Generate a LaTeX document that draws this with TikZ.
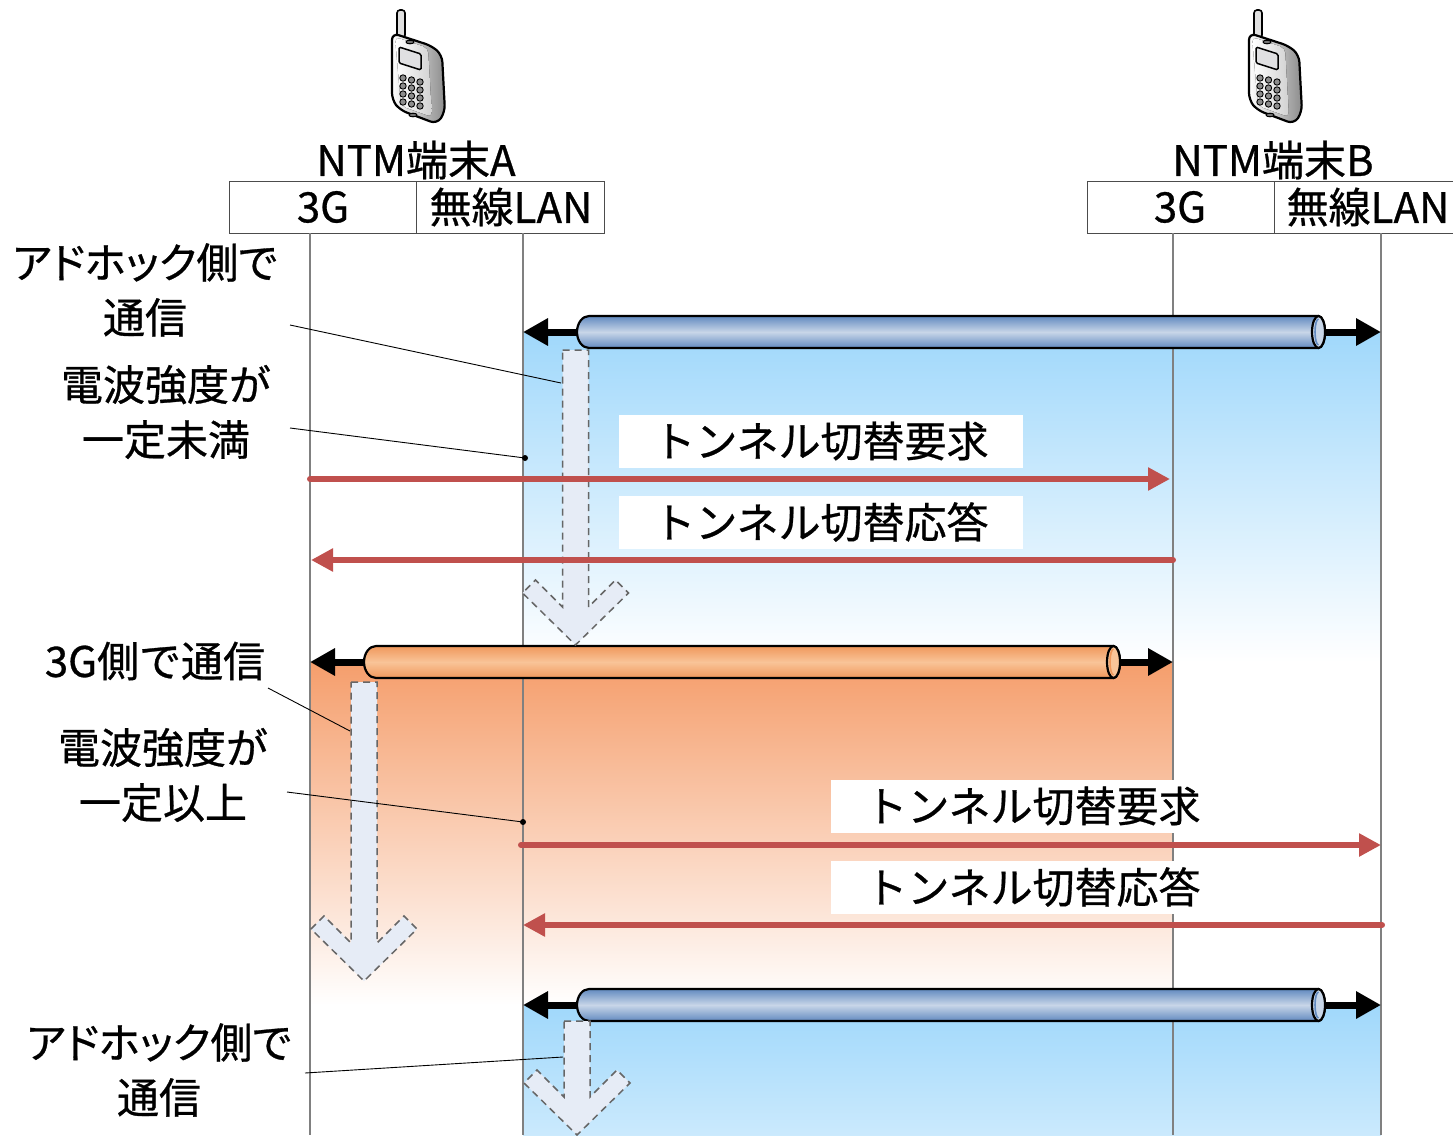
\documentclass[tikz,border=0pt]{standalone}
\usepackage{fontspec}
\setmainfont{Noto Sans CJK JP}[BoldFont=Noto Sans CJK JP, BoldFeatures={FakeBold=0.7}]
\usetikzlibrary{arrows.meta}

\definecolor{msgred}{RGB}{192,80,77}
\definecolor{skyblue}{RGB}{160,216,251}
\definecolor{sunset}{RGB}{245,158,108}
\definecolor{tubeblueD}{RGB}{98,138,192}
\definecolor{tubeblueL}{RGB}{200,214,232}
\definecolor{tubeorD}{RGB}{240,152,92}
\definecolor{tubeorL}{RGB}{249,196,152}
\definecolor{hintfill}{RGB}{230,236,246}
\definecolor{lifegray}{RGB}{128,128,128}

% cylinder: left x, right x (rim centre), centre y, dark colour, light colour
\newcommand\drawtube[5]{%
  \shade[top color=#4, bottom color=#4, middle color=#5, draw=black, line width=2.2]
    (#1+12,#3-16) -- (#2,#3-16)
    arc[start angle=-90, end angle=90, x radius=6.5, y radius=16]
    -- (#1+12,#3+16)
    arc[start angle=90, end angle=270, x radius=12, y radius=16] -- cycle;
  \draw[fill=#5, draw=black, line width=2.2] (#2,#3) ellipse[x radius=6.5, y radius=16];
  \draw[#4, line width=1.6] (#2,#3-13) arc[start angle=-90, end angle=-270, x radius=3.5, y radius=13];
}

% dashed hint arrow: shaft centre x, shaft top y, tip y
\newcommand\hintarrow[3]{%
  \draw[hint] (#1-13,#2) -- (#1+13,#2) -- (#1+13,#3-38) -- (#1+40,#3-65) -- (#1+53,#3-52)
    -- (#1,#3) -- (#1-53,#3-52) -- (#1-40,#3-65) -- (#1-13,#3-38) -- cycle;
}

% proportional kana
\newcommand\propkana{\addfontfeature{RawFeature=+palt}}

\tikzset{
  handset/.pic={
    \draw[fill=black!12, line width=1.6, rounded corners=3] (7,10) rectangle (15,38);
    \draw[line width=2.2, rounded corners=7, left color=white, right color=black!45]
      (2,33) -- (42,46) -- (52,55) -- (55,112) -- (47,124) -- (10,110) -- (2,100) -- cycle;
    \fill[rounded corners=5, left color=white, right color=black!18]
      (5,37) -- (38,48) -- (42,117) -- (11,106) -- cycle;
    \draw[fill=black!55, line width=1] (20,42) ellipse[x radius=4, y radius=1.8];
    \draw[fill=blue!6!black!12, line width=1.5, rounded corners=1.5]
      (9,47) -- (31,54) -- (31,70) -- (9,63) -- cycle;
    \foreach \r in {0,1,2,3}
      \foreach \c in {0,1,2}
        \draw[fill=black!45, line width=0.9] (13+8.5*\c,78+8*\r+2*\c) circle (3.2);
    \draw[fill=black!55, line width=1] (23,115) ellipse[x radius=4, y radius=1.8];
  }
}

\begin{document}
\begin{tikzpicture}[x=1pt, y=-1pt,
  lifeline/.style={draw=lifegray, line width=1.2},
  hdrbox/.style={draw=black!70, line width=1},
  msg/.style={draw=msgred, line width=6, line cap=round, -{Triangle[length=22pt,width=22pt]}},
  tubearrow/.style={line width=7, {Triangle[length=25pt,width=26pt]}-{Triangle[length=25pt,width=26pt]}},
  hint/.style={fill=hintfill, draw=black!60, line width=1.5, dash pattern=on 7pt off 5pt},
  leader/.style={draw=black, line width=0.9},
  note/.style={align=center, font=\fontsize{42}{55}\selectfont\bfseries, inner sep=0pt},
  msglabel/.style={fill=white, minimum width=404pt, minimum height=53pt, inner sep=0pt, font=\fontsize{42}{50}\selectfont\bfseries},
  hdr/.style={font=\fontsize{42}{48}\selectfont\bfseries, inner sep=0pt}]
\useasboundingbox (0,0) rectangle (1453,1135);

% shaded phases
\shade[top color=skyblue, bottom color=white] (523,332) rectangle (1381,662);
\shade[top color=sunset, bottom color=white] (310,662) rectangle (1173,1005);
\shade[top color=skyblue, bottom color=skyblue!55!white] (523,1005) rectangle (1381,1135);

% terminals
\pic at (390,0) {handset};
\pic at (1247,0) {handset};
\node[hdr] (ta) at (416,160) {NTM端末A};
\node[hdr] (tb) at (1273,160) {NTM端末B};
\draw[hdrbox] (229,181) rectangle (604,233);
\draw[hdrbox] (416,181) -- (416,233);
\draw[hdrbox] (1453,181) -- (1087,181) -- (1087,233) -- (1453,233);
\draw[hdrbox] (1274,181) -- (1274,233);
\node[hdr] (a3g) at (323,207) {3G};
\node[hdr] (awl) at (511,207) {無線LAN};
\node[hdr] (b3g) at (1180,207) {3G};
\node[hdr] (bwl) at (1368,207) {無線LAN};

% lifelines
\coordinate (la3g) at (310,233);
\coordinate (lawl) at (523,233);
\coordinate (lb3g) at (1173,233);
\coordinate (lbwl) at (1381,233);
\foreach \l in {la3g,lawl,lb3g,lbwl}
  \draw[lifeline] (\l) -- (\l |- 0,1135);

% tunnels
\coordinate (t1l) at (523,332);  \coordinate (t1r) at (1381,332);
\coordinate (t2l) at (310,662);  \coordinate (t2r) at (1173,662);
\coordinate (t3l) at (523,1005); \coordinate (t3r) at (1381,1005);
\draw[tubearrow] (t1l) -- (t1r);
\drawtube{577}{1318.5}{332}{tubeblueD}{tubeblueL}
\draw[tubearrow] (t2l) -- (t2r);
\drawtube{364}{1113.5}{662}{tubeorD}{tubeorL}
\draw[tubearrow] (t3l) -- (t3r);
\drawtube{577}{1318.5}{1005}{tubeblueD}{tubeblueL}

% state transitions
\hintarrow{575.5}{350}{645}
\hintarrow{364}{682}{981}
\hintarrow{577}{1021}{1135}

% switch messages
\node[msglabel] (q1) at (821,441) {トンネル切替要求};
\node[msglabel] (p1) at (821,522) {トンネル切替応答};
\node[msglabel] (q2) at (1033,806) {トンネル切替要求};
\node[msglabel] (p2) at (1033,887) {トンネル切替応答};
\coordinate (m1s) at (310,479);  \coordinate (m1e) at (1170,479);
\coordinate (m2s) at (1173,560); \coordinate (m2e) at (311,560);
\coordinate (m3s) at (521,845);  \coordinate (m3e) at (1381,845);
\coordinate (m4s) at (1382,925); \coordinate (m4e) at (523,925);
\draw[msg] (m1s) -- (m1e);
\draw[msg] (m2s) -- (m2e);
\draw[msg] (m3s) -- (m3e);
\draw[msg] (m4s) -- (m4e);

% annotations
\node[note] (n1) at (145,290) {{\propkana アドホック側で}\\通信};
\node[note] (n2) at (166,412) {電波強度が\\一定未満};
\node[note] (n3) at (155,661) {3G側で通信};
\node[note] (n4) at (163,775) {電波強度が\\一定以上};
\node[note] (n5) at (159,1070) {{\propkana アドホック側で}\\通信};
\coordinate (c1a) at (290,325);  \coordinate (c1b) at (561,383);
\coordinate (c2a) at (290,428);  \coordinate (c2b) at (525,458);
\coordinate (c3a) at (268,688);  \coordinate (c3b) at (350,731);
\coordinate (c4a) at (287,792);  \coordinate (c4b) at (523,822);
\coordinate (c5a) at (305,1073); \coordinate (c5b) at (563,1057);
\draw[leader] (c1a) -- (c1b);
\draw[leader] (c2a) -- (c2b);
\fill (c2b) circle (3);
\draw[leader] (c3a) -- (c3b);
\draw[leader] (c4a) -- (c4b);
\fill (c4b) circle (3);
\draw[leader] (c5a) -- (c5b);
\end{tikzpicture}
\end{document}
